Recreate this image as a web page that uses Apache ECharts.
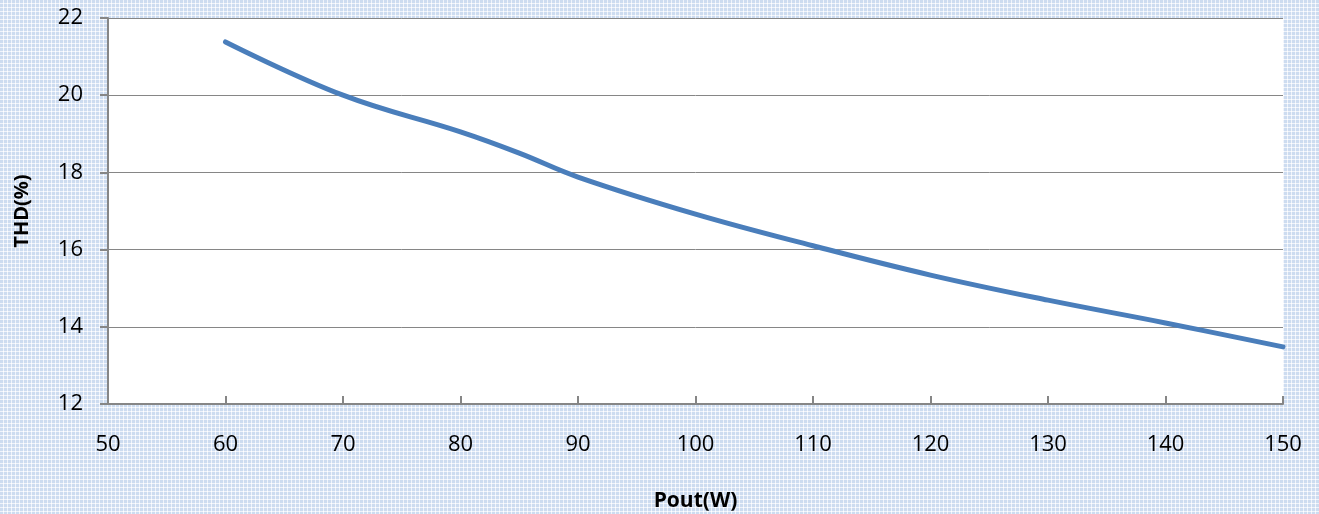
<!DOCTYPE html>
<html>
<head>
<meta charset="utf-8">
<script src="https://cdn.jsdelivr.net/npm/echarts@6/dist/echarts.min.js"></script>
<style>
  html, body { margin: 0; padding: 0; }
  #chart { width: 1319px; height: 514px; }
</style>
</head>
<body>
<div id="chart"></div>
<script>
'use strict';

var poutW = [60, 70, 80, 85, 90, 100, 110, 120, 130, 140, 150];
var thdPct = [21.38, 20.0, 19.05, 18.5, 17.88, 16.92, 16.1, 15.34, 14.69, 14.1, 13.48];
var xTicks = [50, 60, 70, 80, 90, 100, 110, 120, 130, 140, 150];
var yTicks = [12, 14, 16, 18, 20, 22];

(function() {
  // dotted light-blue backdrop, roughly like the office chart fill
  function makePattern() {
    var c = document.createElement('canvas');
    c.width = 4; c.height = 4;
    var ctx = c.getContext('2d');
    ctx.fillStyle = '#cddcf0';
    ctx.fillRect(0, 0, 4, 4);
    ctx.fillStyle = '#f0f4fb';
    ctx.fillRect(3, 0, 1, 4);
    ctx.fillRect(0, 3, 4, 1);
    ctx.fillStyle = '#ffffff';
    ctx.fillRect(3, 3, 1, 1);
    return c;
  }

  var chart = echarts.init(document.getElementById('chart'));
  var font = 'Open Sans, Noto Sans, sans-serif';

  chart.setOption({
    backgroundColor: { image: makePattern(), repeat: 'repeat' },
    animation: false,
    grid: {
      left: 108, right: 36, top: 18, bottom: 110,
      outerBoundsMode: 'none', containLabel: false,
      show: true, backgroundColor: '#ffffff', borderWidth: 0
    },
    xAxis: {
      type: 'value',
      min: xTicks[0],
      max: xTicks[xTicks.length - 1],
      interval: 10,
      name: 'Pout(W)',
      nameLocation: 'middle',
      nameGap: 87,
      nameTextStyle: { fontFamily: font, fontWeight: 'bold', fontSize: 21, color: '#000' },
      axisLine: { lineStyle: { color: '#868686', width: 2 } },
      axisTick: { inside: true, length: 8, lineStyle: { color: '#868686', width: 2 } },
      axisLabel: { fontFamily: font, fontSize: 22, color: '#000', margin: 30 },
      splitLine: { show: false }
    },
    yAxis: {
      type: 'value',
      min: yTicks[0],
      max: yTicks[yTicks.length - 1],
      interval: 2,
      name: 'THD(%)',
      nameLocation: 'middle',
      nameGap: 76,
      nameRotate: 90,
      nameTextStyle: { fontFamily: font, fontWeight: 'bold', fontSize: 20, color: '#000' },
      axisLine: { show: true, lineStyle: { color: '#868686', width: 2 } },
      axisTick: { show: true, length: 8, lineStyle: { color: '#868686', width: 2 } },
      axisLabel: { fontFamily: font, fontSize: 22, color: '#000', margin: 25 },
      splitLine: { lineStyle: { color: '#868686', width: 1 } }
    },
    series: [{
      type: 'line',
      data: poutW.map(function(x, i) { return [x, thdPct[i]]; }),
      smooth: 0.4,
      showSymbol: false,
      lineStyle: { color: '#4a7ebb', width: 5, cap: 'round' }
    }]
  });
})();
</script>
</body>
</html>
